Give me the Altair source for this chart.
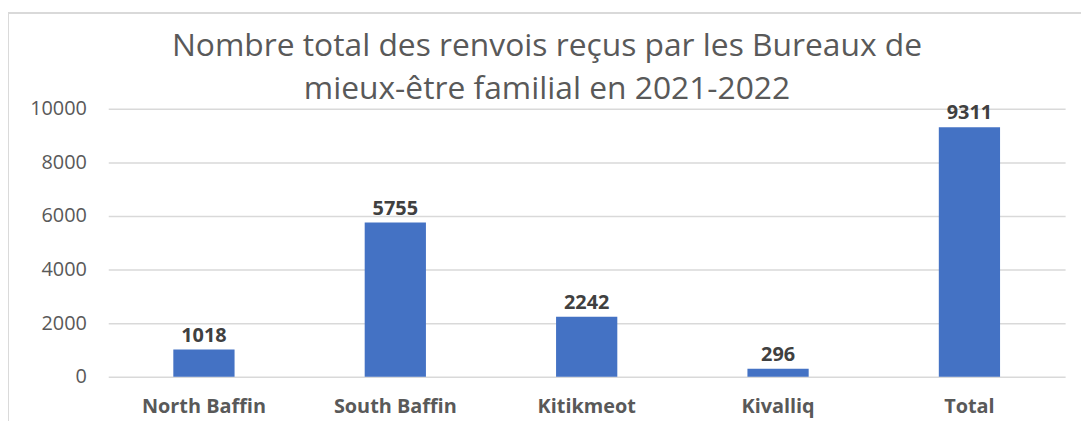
import altair as alt
import pandas as pd

regions = ["North Baffin", "South Baffin", "Kitikmeot", "Kivalliq", "Total"]
referrals = [1018, 5755, 2242, 296, 9311]
y_ticks = [0, 2000, 4000, 6000, 8000, 10000]

df = pd.DataFrame({"region": regions, "value": referrals})

FONT = "Open Sans"
GREY = "#595959"

x_enc = alt.X(
    "region:N",
    sort=regions,
    title=None,
    scale=alt.Scale(paddingInner=0.68, paddingOuter=0.34),
    axis=alt.Axis(
        labelAngle=0,
        labelFont=FONT,
        labelFontSize=20,
        labelFontWeight="bold",
        labelColor=GREY,
        labelPadding=20,
        domain=False,
        ticks=False,
        grid=False,
    ),
)
y_enc = alt.Y(
    "value:Q",
    title=None,
    scale=alt.Scale(domain=[0, 10000], nice=False),
    axis=alt.Axis(
        values=y_ticks,
        format="d",
        labelFont=FONT,
        labelFontSize=20,
        labelColor=GREY,
        labelPadding=22,
        domain=False,
        ticks=False,
        gridColor="#D9D9D9",
        gridWidth=1.5,
    ),
)

bars = alt.Chart(df).mark_bar(color="#4472C4").encode(x=x_enc, y=y_enc)

labels = alt.Chart(df).mark_text(
    font=FONT, fontSize=20, fontWeight="bold", color="#404040",
    baseline="alphabetic", dy=-8,
).encode(x=alt.X("region:N", sort=regions), y="value:Q", text="value:Q")

frame_top = alt.Chart(df).mark_rule(color="#D9D9D9", strokeWidth=1.5).encode(
    x=alt.value(-101), x2=alt.value(1000), y=alt.value(-96.5)
)
frame_left = alt.Chart(df).mark_rule(color="#D9D9D9", strokeWidth=1.5).encode(
    x=alt.value(-101), y=alt.value(-96.5), y2=alt.value(320)
)

chart = alt.layer(frame_top, frame_left, bars, labels).properties(
    width=964,
    height=270,
    autosize=alt.AutoSizeParams(type="none"),
    padding={"left": 101, "top": 100, "right": 16, "bottom": 43},
    title=alt.TitleParams(
        ["Nombre total des renvois reçus par les Bureaux de",
         "mieux-être familial en 2021-2022"],
        font=FONT,
        fontSize=32,
        fontWeight="normal",
        color=GREY,
        lineHeight=43,
        anchor="middle",
        frame="group",
        dx=-40,
        offset=-94,
    ),
).configure_view(stroke=None)

chart.save("out.html", embed_options={"renderer": "svg", "actions": False})
